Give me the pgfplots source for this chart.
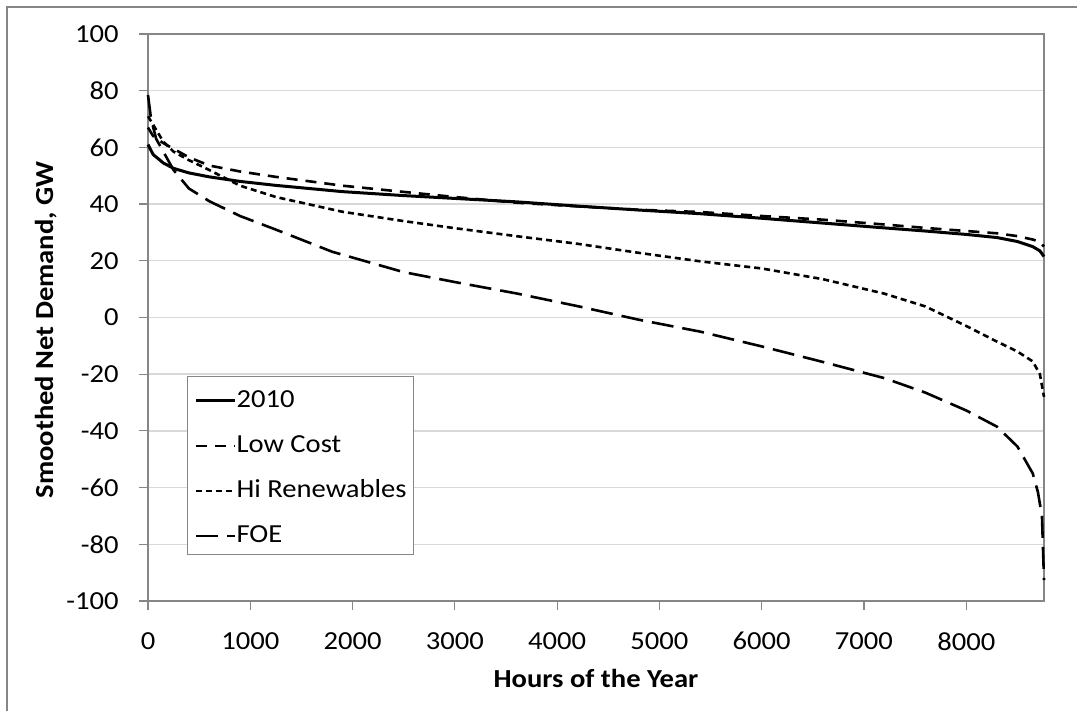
\documentclass[border=0pt]{standalone}
\usepackage{fontspec}
\setmainfont{Carlito}[FakeStretch=1.1]
\usepackage{pgfplots}
\pgfplotsset{compat=1.18}
\definecolor{axisgray}{RGB}{134,134,134}
\definecolor{gridgray}{RGB}{217,217,217}

\begin{document}
\begin{tikzpicture}[font=\fontsize{13}{15.6}\selectfont]
\useasboundingbox (-74pt,-55pt) rectangle (464.5pt,300.5pt);
% chart area frame (only top and left are in view)
\draw[axisgray, line width=0.6pt] (-70.5pt,-55pt) -- (-70.5pt,297pt) -- (464.5pt,297pt);
\begin{axis}[
	at={(0pt,0pt)}, anchor=south west,
	scale only axis,
	width=448pt, height=283.5pt,
	xmin=0, xmax=8760,
	ymin=-100, ymax=100,
	clip=false,
	xtick={0,1000,2000,3000,4000,5000,6000,7000,8000},
	xticklabels={0,1000,2000,3000,4000,5000,6000,7000,8000},
	ytick={-100,-80,-60,-40,-20,0,20,40,60,80,100},
	yticklabels={-100,-80,-60,-40,-20,0,20,40,60,80,100},
	xtick pos=bottom, ytick pos=left,
	tick align=outside,
	major tick length=4.5pt,
	tick style={axisgray, line width=0.6pt},
	axis line style={axisgray, line width=0.6pt},
	ymajorgrids=true,
	major grid style={gridgray, line width=0.7pt},
	xticklabel style={anchor=north, inner sep=0pt, yshift=-11pt},
	yticklabel style={anchor=east, inner sep=0pt, xshift=-10pt},
	xlabel={\bfseries Hours of the Year},
	ylabel={\bfseries Smoothed Net Demand, GW},
	every axis x label/.style={at={(axis description cs:0.5,-0.1534)}, anchor=base},
	every axis y label/.style={at={(axis description cs:-0.106,0.478)}, anchor=base, rotate=90},
	legend style={at={(axis description cs:0.0435,0.0811)}, anchor=south west,
		draw=axisgray, line width=0.6pt, fill=white,
		inner xsep=3.5pt, inner ysep=0pt, row sep=1pt, column sep=0pt,
		nodes={inner sep=0pt, text height=15.5pt, text depth=6pt},
		font=\fontsize{13}{15.6}\selectfont},
	legend cell align=left,
	legend image code/.code={\draw[#1] (0pt,-1.5pt) -- (19.5pt,-1.5pt);},
]
% 2010
\addplot[black, line width=1.5pt, line join=round] coordinates {
	(0,61) (50,57.5) (150,54.5) (250,52.6) (400,51) (600,49.6) (900,48)
	(1250,46.6) (1900,44.4) (2500,43) (3000,42) (3600,40.8) (4200,39.3)
	(4800,37.9) (5400,36.6) (6000,35) (6600,33.3) (7200,31.6) (7600,30.5)
	(8000,29.3) (8300,28.2) (8500,26.8) (8650,25) (8720,23.5) (8760,21.5)
};
\addlegendentry{2010}
% Low Cost
\addplot[black, line width=1.3pt, dash pattern=on 5.5pt off 4pt] coordinates {
	(0,67) (50,64) (150,61.5) (250,59.5) (400,56.5) (600,53.6) (900,51.5)
	(1250,49.6) (1900,46.5) (2500,44.3) (3000,42.5) (3600,40.5) (4200,39.2)
	(4800,38) (5400,37.2) (6000,35.8) (6600,34.5) (7200,32.8) (7600,31.6)
	(8000,30.5) (8300,29.7) (8500,28.7) (8650,27.5) (8720,26.7) (8760,25)
};
\addlegendentry{Low Cost}
% Hi Renewables
\addplot[black, line width=1.3pt, dash pattern=on 3pt off 2pt] coordinates {
	(0,71) (50,68) (150,62) (250,58.5) (400,55.5) (600,52) (900,46.5)
	(1250,42.5) (1900,37.3) (2500,34) (3000,31.5) (3600,28.7) (4200,26)
	(4800,22.8) (5400,19.8) (6000,17.3) (6600,13.5) (7200,8.4) (7600,3.9)
	(8000,-3) (8300,-8.5) (8500,-12) (8650,-15.5) (8720,-20) (8760,-28)
};
\addlegendentry{Hi Renewables\hspace{3.5pt}}
% FOE
\addplot[black, line width=1.3pt, dash pattern=on 11pt off 4.5pt] coordinates {
	(0,78.5) (30,70) (80,63) (150,58.5) (250,52) (400,45.5) (600,41)
	(900,35.8) (1250,31) (1800,23.2) (2500,16) (3000,12.5) (3600,8.5)
	(4200,4) (4800,-0.8) (5400,-5) (6000,-10.2) (6600,-15.7) (7200,-21.4)
	(7600,-26.5) (8000,-32.8) (8300,-38.5) (8500,-45.5) (8650,-55)
	(8700,-61.5) (8740,-70) (8760,-92.6)
};
\addlegendentry{FOE}
\end{axis}
\end{tikzpicture}
\end{document}
